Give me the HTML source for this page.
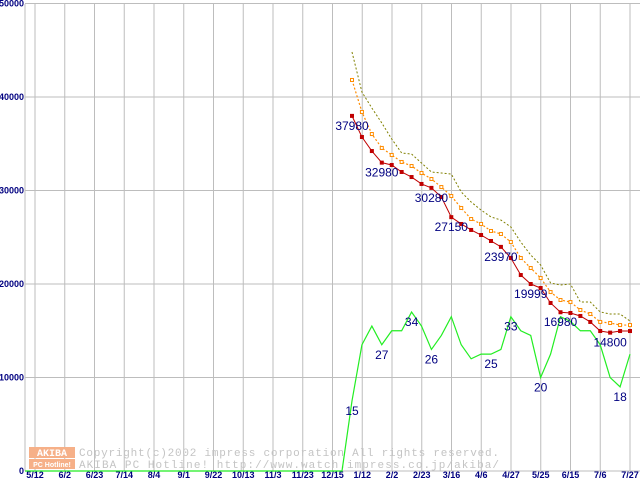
<!DOCTYPE html>
<html><head><meta charset="utf-8"><style>
html,body{margin:0;padding:0;background:#fff;}
svg{display:block;font-family:"Liberation Sans",sans-serif;}
</style></head><body>
<svg id="chart" width="640" height="480" viewBox="0 0 640 480" xmlns="http://www.w3.org/2000/svg">
<g id="grid"></g>
<g id="axes"></g>
<g id="watermark">
  <rect x="29" y="447" width="46" height="11" fill="#f6b088"/>
  <rect x="29" y="459" width="46" height="10" fill="#f6b088"/>
  <text x="52" y="456" font-size="10" font-weight="bold" fill="#fff" text-anchor="middle" font-family="Liberation Mono,monospace">AKIBA</text>
  <text x="52" y="467" font-size="7" font-weight="bold" fill="#fff" text-anchor="middle">PC Hotline!</text>
  <text x="79" y="456" font-size="11" fill="#c4c4c4" font-family="Liberation Mono,monospace" textLength="420">Copyright(c)2002 impress corporation All rights reserved.</text>
  <text x="79" y="468" font-size="11" fill="#c4c4c4" font-family="Liberation Mono,monospace" textLength="420">AKIBA PC Hotline!  http://www.watch.impress.co.jp/akiba/</text>
</g>
<g id="series"></g>
<g id="labels"></g>
</svg>
<script>
const yTicks = [0, 10000, 20000, 30000, 40000, 50000];
const xTickLabels = ["5/12","6/2","6/23","7/14","8/4","9/1","9/22","10/13","11/3","11/23","12/15","1/12","2/2","2/23","3/16","4/6","4/27","5/25","6/15","7/6","7/27"];
const redPrices = [37980,35720,34220,32980,32730,31980,31440,30700,30280,29300,27150,26420,25780,25240,24600,23970,22780,20960,19999,19570,17970,16980,16900,16580,15940,14970,14800,14970,14970];
const orangePrices = [41820,38400,36040,34550,33800,33050,32620,31870,31230,30370,29410,28130,26950,26420,25670,25350,24490,22780,21710,20640,19140,18290,18070,17220,16790,15940,15830,15610,15610];
const olivePrices = [44810,40530,38820,37220,35510,34010,33900,32940,31980,31870,31760,29840,28770,27910,27170,26840,26100,24490,23100,22030,20110,19890,20000,18070,18070,17010,16790,16790,16040];
const shopCounts = [15,27,31,27,30,30,34,31,26,29,33,27,24,25,25,26,33,30,29,20,25,33,32,30,30,27,20,18,25];
const redLabelIdx = [0,3,8,10,15,18,21,26];
const countLabelIdx = [0,3,6,8,14,16,19,27];

const NS = "http://www.w3.org/2000/svg";
const yOf = v => 471 - v * 0.00935;
const xOf = i => 352 + i * (278 / (redPrices.length - 1));
const gxOf = k => 35 + k * 29.75;
function mk(tag, attrs, parent) {
  const e = document.createElementNS(NS, tag);
  for (const k in attrs) e.setAttribute(k, attrs[k]);
  parent.appendChild(e);
  return e;
}
const grid = document.getElementById('grid'), axes = document.getElementById('axes');
const series = document.getElementById('series'), labels = document.getElementById('labels');

yTicks.forEach(v => {
  const l = mk('line', {x1: 25, x2: 640, y1: yOf(v), y2: yOf(v), stroke: '#bdbdbd', 'stroke-width': 1}, grid);
  
  
  const t = mk('text', {x: v === 0 ? 24 : 24, y: yOf(v) + 3, 'font-size': 9, 'font-weight': 'bold', fill: '#000080', 'text-anchor': 'end'}, axes);
  t.textContent = String(v);
  
  
});
const yax = mk('line', {x1: 25, x2: 25, y1: 4, y2: 471, stroke: '#bdbdbd'}, grid);


xTickLabels.forEach((s, k) => {
  const l = mk('line', {x1: gxOf(k), x2: gxOf(k), y1: 4, y2: 471, stroke: '#bdbdbd'}, grid);
  
  
  const t = mk('text', {x: gxOf(k), y: 478, 'font-size': 9, 'font-weight': 'bold', fill: '#000080', 'text-anchor': 'middle'}, axes);
  t.textContent = s;
  
  
});

// green shop-count line (count * 500 on the price axis)
const gpts = ['25,471', (xOf(0) - 10) + ',471'].concat(shopCounts.map((c, i) => xOf(i) + ',' + yOf(c * 500)));
const gl = mk('polyline', {points: gpts.join(' '), fill: 'none', stroke: '#22ee22', 'stroke-width': 1.2}, series);



const ol = mk('polyline', {points: olivePrices.map((v, i) => xOf(i) + ',' + yOf(v)).join(' '), fill: 'none', stroke: '#808000', 'stroke-width': 1, 'stroke-dasharray': '2,2'}, series);



const orl = mk('polyline', {points: orangePrices.map((v, i) => xOf(i) + ',' + yOf(v)).join(' '), fill: 'none', stroke: '#ff8c00', 'stroke-width': 1.2, 'stroke-dasharray': '2,2'}, series);


orangePrices.forEach((v, i) => {
  const r = mk('rect', {x: xOf(i) - 1.5, y: yOf(v) - 1.5, width: 3, height: 3, fill: '#fff', stroke: '#ff8c00', 'stroke-width': 1}, series);
  
  
});

const rl = mk('polyline', {points: redPrices.map((v, i) => xOf(i) + ',' + yOf(v)).join(' '), fill: 'none', stroke: '#c00000', 'stroke-width': 1}, series);


redPrices.forEach((v, i) => {
  const r = mk('rect', {x: xOf(i) - 2, y: yOf(v) - 2, width: 4, height: 4, fill: '#c00000'}, series);
  
  
});

redLabelIdx.forEach(i => {
  const t = mk('text', {x: xOf(i), y: yOf(redPrices[i]) + 14, 'font-size': 12, fill: '#000080', 'text-anchor': 'middle'}, labels);
  t.textContent = String(redPrices[i]);
  
  
});
countLabelIdx.forEach(i => {
  const t = mk('text', {x: xOf(i), y: yOf(shopCounts[i] * 500) + 14, 'font-size': 12, fill: '#000080', 'text-anchor': 'middle'}, labels);
  t.textContent = String(shopCounts[i]);
  
  
});
</script>
</body></html>
